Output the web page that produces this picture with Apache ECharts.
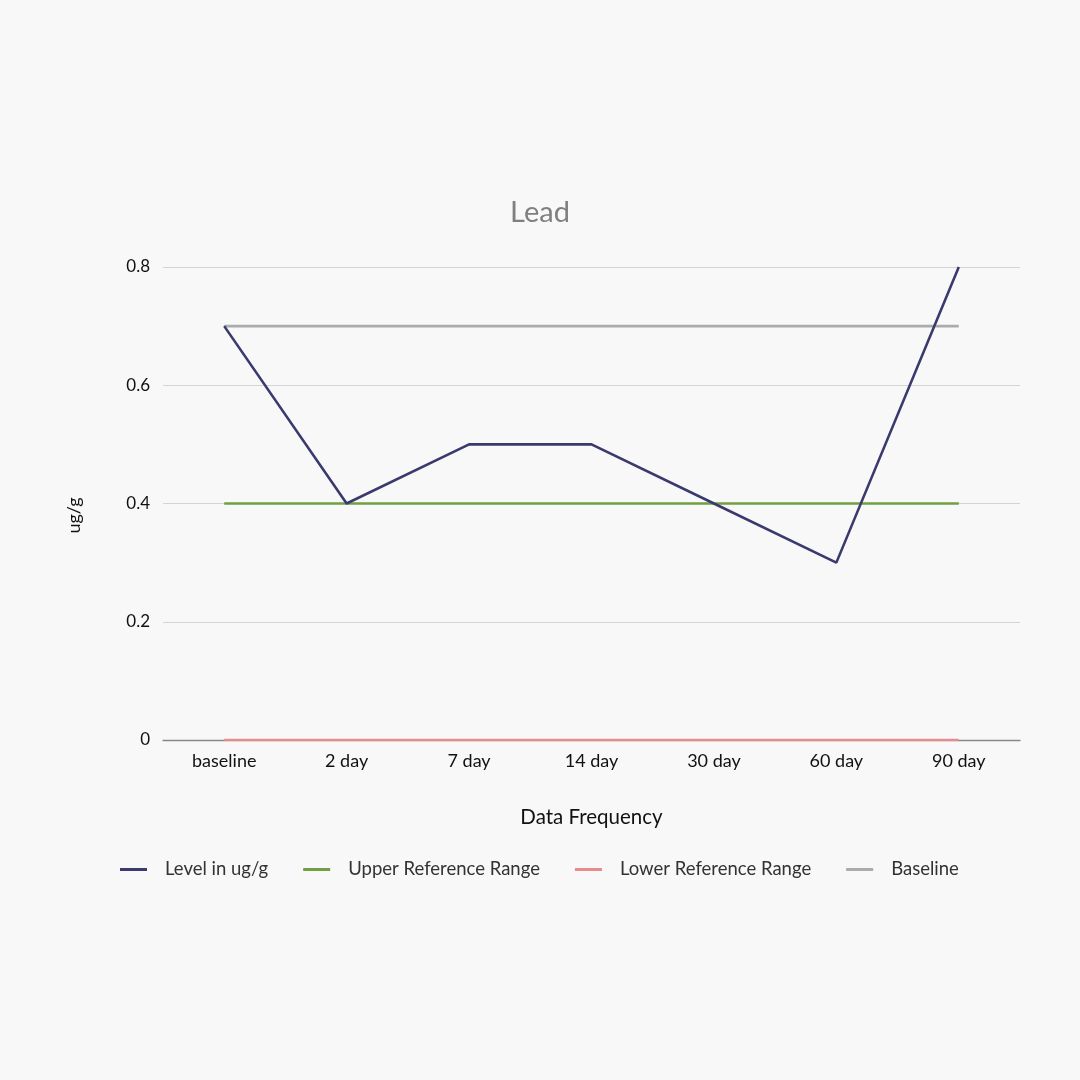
<!DOCTYPE html>
<html><head><meta charset="utf-8">
<script src="https://cdn.jsdelivr.net/npm/echarts@6/dist/echarts.min.js"></script>
<style>html,body{margin:0;padding:0;background:#f8f8f8}#c{width:1080px;height:1080px}</style>
</head><body><div id="c"></div>
<script>
const categories = ['baseline','2 day','7 day','14 day','30 day','60 day','90 day'];
const levelValues = [0.7, 0.4, 0.5, 0.5, 0.4, 0.3, 0.8];
const upperRef = [0.4, 0.4, 0.4, 0.4, 0.4, 0.4, 0.4];
const lowerRef = [0, 0, 0, 0, 0, 0, 0];
const baselineVals = [0.7, 0.7, 0.7, 0.7, 0.7, 0.7, 0.7];
const yTicks = [0, 0.2, 0.4, 0.6, 0.8];

const font = 'Lato, "Open Sans", sans-serif';
const chart = echarts.init(document.getElementById('c'));
function ln(name, data, color, z) {
  return { name, type: 'line', data, symbol: 'none', z,
    lineStyle: { color, width: 2.6 }, itemStyle: { color }, emphasis: { disabled: true } };
}
chart.setOption({
  backgroundColor: '#f8f8f8',
  animation: false,
  textStyle: { fontFamily: font },
  title: { text: 'Lead', left: 'center', top: 193,
    textStyle: { fontFamily: font, fontSize: 29, fontWeight: 'normal', color: '#7f7f7f' } },
  grid: { left: 163, right: 60, top: 267, bottom: 340 },
  legend: {
    top: 855, left: 115, itemWidth: 27, itemHeight: 3, itemGap: 35, icon: 'rect',
    textStyle: { fontFamily: font, fontSize: 18.5, color: '#333', padding: [0, 0, 0, 13] },
    data: ['Level in ug/g', 'Upper Reference Range', 'Lower Reference Range', 'Baseline']
  },
  xAxis: {
    type: 'category', data: categories, boundaryGap: true,
    name: 'Data Frequency', nameLocation: 'middle', nameGap: 67,
    nameTextStyle: { fontFamily: font, fontSize: 20.5, color: '#111' },
    axisLine: { lineStyle: { color: '#888', width: 1.3 } },
    axisTick: { show: false },
    axisLabel: { fontFamily: font, fontSize: 18, color: '#111', margin: 12 }
  },
  yAxis: {
    type: 'value', min: 0, max: 0.8, interval: 0.2,
    name: 'ug/g', nameLocation: 'middle', nameGap: 80,
    nameTextStyle: { fontFamily: font, fontSize: 18, color: '#111', padding: [0, 24, 0, 0] },
    axisLine: { show: false }, axisTick: { show: false },
    splitLine: { lineStyle: { color: '#d4d4d4', width: 1 } },
    axisLabel: { fontFamily: font, fontSize: 17, color: '#111', margin: 13,
      formatter: v => { const t = yTicks.find(x => Math.abs(x - v) < 1e-9); return t === undefined ? '' : String(t); } }
  },
  series: [
    ln('Level in ug/g', levelValues, '#3a3a6e', 5),
    ln('Upper Reference Range', upperRef, '#70a043', 4),
    ln('Lower Reference Range', lowerRef, '#e88b8b', 3),
    ln('Baseline', baselineVals, '#ababab', 2)
  ]
});
</script></body></html>
